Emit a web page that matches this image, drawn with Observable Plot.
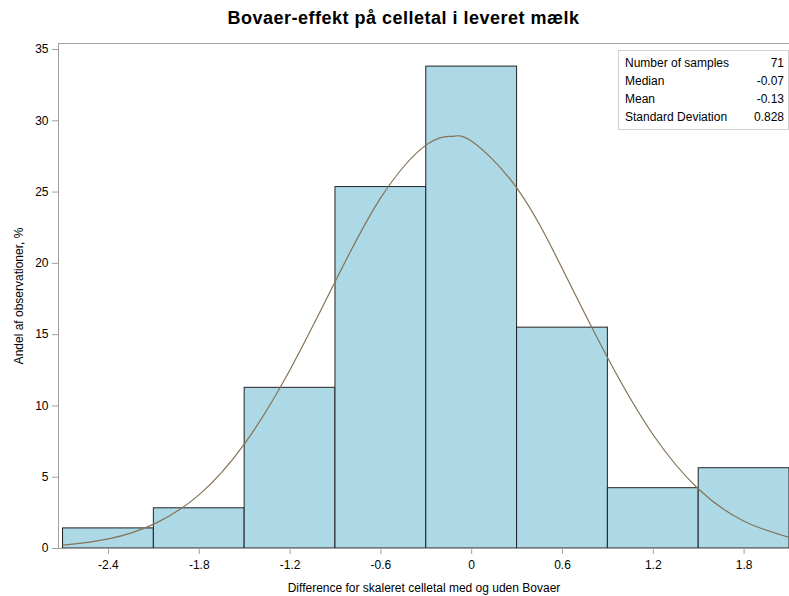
<!DOCTYPE html>
<html><head><meta charset="utf-8">
<script src="https://cdn.jsdelivr.net/npm/d3@7"></script>
<script src="https://cdn.jsdelivr.net/npm/@observablehq/plot@0.6"></script>
<style>
body{margin:0;background:#fff;}
#wrap{position:relative;width:789px;height:596px;font-family:"Liberation Sans",Arial,sans-serif;}
#title{height:36px;line-height:36px;text-align:center;font-weight:bold;font-size:18px;letter-spacing:0.5px;color:#000;font-family:"Liberation Sans",Arial,sans-serif;padding-left:18px;box-sizing:border-box;}
#stats{position:absolute;left:618px;top:50px;width:169px;border:1px solid #d0d0d0;background:#fff;font-size:12px;color:#000;padding:3px 0;}
#stats table{border-collapse:collapse;width:100%;}
#stats td{padding:0 4px 0 6px;height:18px;line-height:18px;}
#stats td.v{text-align:right;}
</style>
</head><body>
<div id="wrap">
<div id="title"></div>
<div id="chart"></div>
<div id="stats"></div>
</div>
<script>
const title = "Bovaer-effekt på celletal i leveret mælk";
const xLabel = "Difference for skaleret celletal med og uden Bovaer";
const yLabel = "Andel af observationer, %";

// histogram bins (lower edge, upper edge) and percent of observations
const binLow  = [-2.7, -2.1, -1.5, -0.9, -0.3, 0.3, 0.9, 1.5];
const binHigh = [-2.1, -1.5, -0.9, -0.3, 0.3, 0.9, 1.5, 2.1];
const percent = [1.41, 2.82, 11.27, 25.35, 33.80, 15.49, 4.23, 5.63];

// fitted normal curve
const curveX = [-2.7, -2.4, -2.1, -1.8, -1.5, -1.2, -0.9, -0.6, -0.3, -0.13, 0, 0.3, 0.6, 0.9, 1.2, 1.5, 1.8, 2.1];
const curveY = [0.23, 0.67, 1.71, 3.78, 7.36, 12.54, 18.76, 24.61, 28.31, 28.91, 28.56, 25.26, 19.60, 13.34, 7.96, 4.16, 1.91, 0.77];

const xTicks = [-2.4, -1.8, -1.2, -0.6, 0, 0.6, 1.2, 1.8];
const yTicks = [0, 5, 10, 15, 20, 25, 30, 35];

const statLabels = ["Number of samples", "Median", "Mean", "Standard Deviation"];
const statValues = ["71", "-0.07", "-0.13", "0.828"];

const bars = binLow.map((lo, i) => ({x1: lo, x2: binHigh[i], y: percent[i]}));
const curve = curveX.map((x, i) => ({x, y: curveY[i]}));

document.getElementById("title").textContent = title;
document.getElementById("stats").innerHTML = "<table>" +
  statLabels.map((l, i) => `<tr><td>${l}</td><td class="v">${statValues[i]}</td></tr>`).join("") + "</table>";

const chart = Plot.plot({
  width: 789,
  height: 560,
  marginLeft: 58,
  marginRight: 0,
  marginTop: 7,
  marginBottom: 48,
  style: {fontFamily: "'Liberation Sans', Arial, sans-serif", fontSize: "12px", color: "#000", background: "#fff"},
  x: {domain: [-2.73, 2.1], ticks: xTicks, tickFormat: d => String(d), label: null},
  y: {domain: [0, 35.42], ticks: yTicks, label: null},
  marks: [
    Plot.rectY(bars, {x1: "x1", x2: "x2", y: "y", fill: "#ADD8E6", stroke: "#222", strokeWidth: 1}),
    Plot.line(curve, {x: "x", y: "y", stroke: "#857456", strokeWidth: 1.2, curve: "natural"}),
    Plot.frame({anchor: "top", stroke: "#a0a0a0"}),
    Plot.frame({anchor: "left", stroke: "#a0a0a0"}),
    Plot.frame({anchor: "bottom", stroke: "#a0a0a0"}),
    Plot.axisX({ticks: xTicks, tickFormat: d => String(d), tickSize: 6, tickPadding: 6, stroke: "#a0a0a0", label: xLabel, labelAnchor: "center", labelArrow: "none", labelOffset: 43, fontSize: 12}),
    Plot.axisY({ticks: yTicks, tickSize: 6, tickPadding: 4, stroke: "#a0a0a0", label: yLabel, labelAnchor: "center", labelArrow: "none", labelOffset: 44, fontSize: 12})
  ]
});
document.getElementById("chart").appendChild(chart);
</script>
</body></html>
